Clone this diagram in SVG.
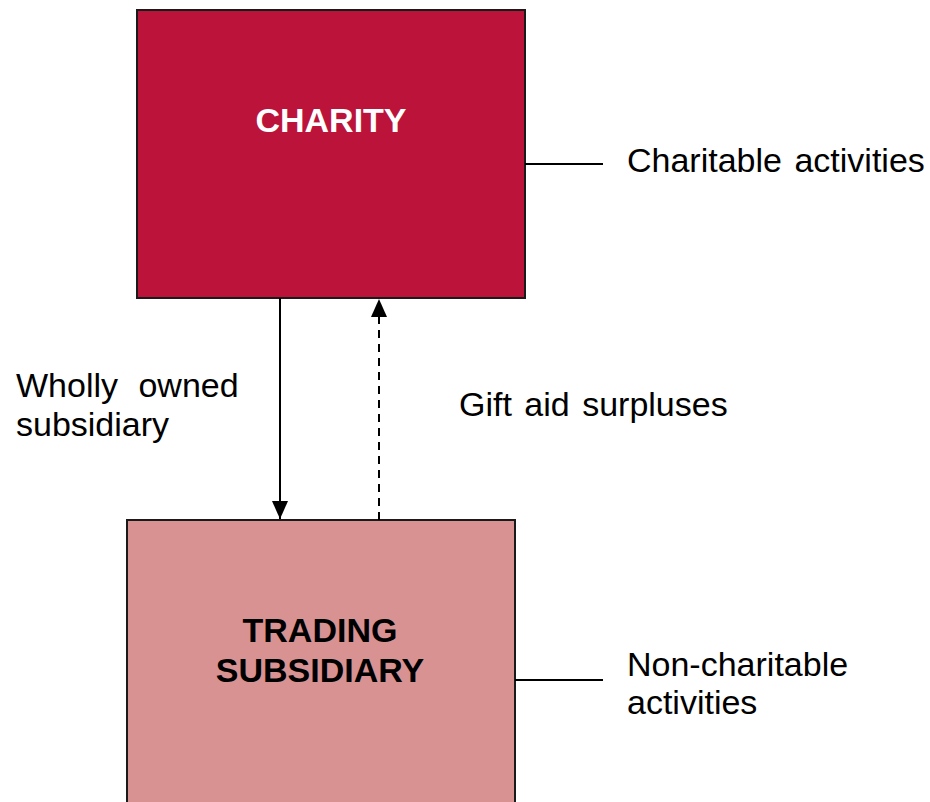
<svg xmlns="http://www.w3.org/2000/svg" width="930" height="802" viewBox="0 0 930 802">
  <style>
    .box { stroke: #1a1a1a; stroke-width: 2; }
    .title { font-family: "Liberation Sans", Arial, sans-serif; font-weight: bold; font-size: 34px; text-anchor: middle; }
    .label { font-family: "Liberation Sans", Arial, sans-serif; font-size: 34px; fill: #000; word-spacing: 3px; }
    .label.wide { word-spacing: 11px; }
    .link { stroke: #000; stroke-width: 2; fill: none; }
  </style>
  <defs>
    <marker id="arrow" viewBox="0 0 18 16" refX="18" refY="8" markerWidth="18" markerHeight="16" markerUnits="userSpaceOnUse" orient="auto">
      <path d="M0,0 L18,8 L0,16 Z" fill="#000"/>
    </marker>
  </defs>
  <rect width="930" height="802" fill="#fff"/>

  <g id="charity">
    <rect class="box" x="137" y="10" width="388" height="288" fill="#BB133A"/>
    <text class="title" x="331" y="132" fill="#fff">CHARITY</text>
  </g>

  <g id="trading-subsidiary">
    <rect class="box" x="127" y="520" width="388" height="300" fill="#D99292"/>
    <text class="title" x="320" y="642" fill="#000">TRADING</text>
    <text class="title" x="320" y="682" fill="#000">SUBSIDIARY</text>
  </g>

  <g id="connectors">
    <line class="link" x1="280" y1="298" x2="280" y2="519" marker-end="url(#arrow)"/>
    <line class="link" x1="379" y1="520" x2="379" y2="299" stroke-dasharray="8,6" marker-end="url(#arrow)"/>
    <line class="link" x1="525" y1="164" x2="603" y2="164"/>
    <line class="link" x1="515" y1="680" x2="603" y2="680"/>
  </g>

  <g id="labels">
    <text class="label" x="627" y="172">Charitable activities</text>
    <text class="label" x="627" y="676">Non-charitable</text>
    <text class="label" x="627" y="714">activities</text>
    <text class="label wide" x="16" y="397">Wholly owned</text>
    <text class="label" x="16" y="436">subsidiary</text>
    <text class="label" x="459" y="416">Gift aid surpluses</text>
  </g>
</svg>
